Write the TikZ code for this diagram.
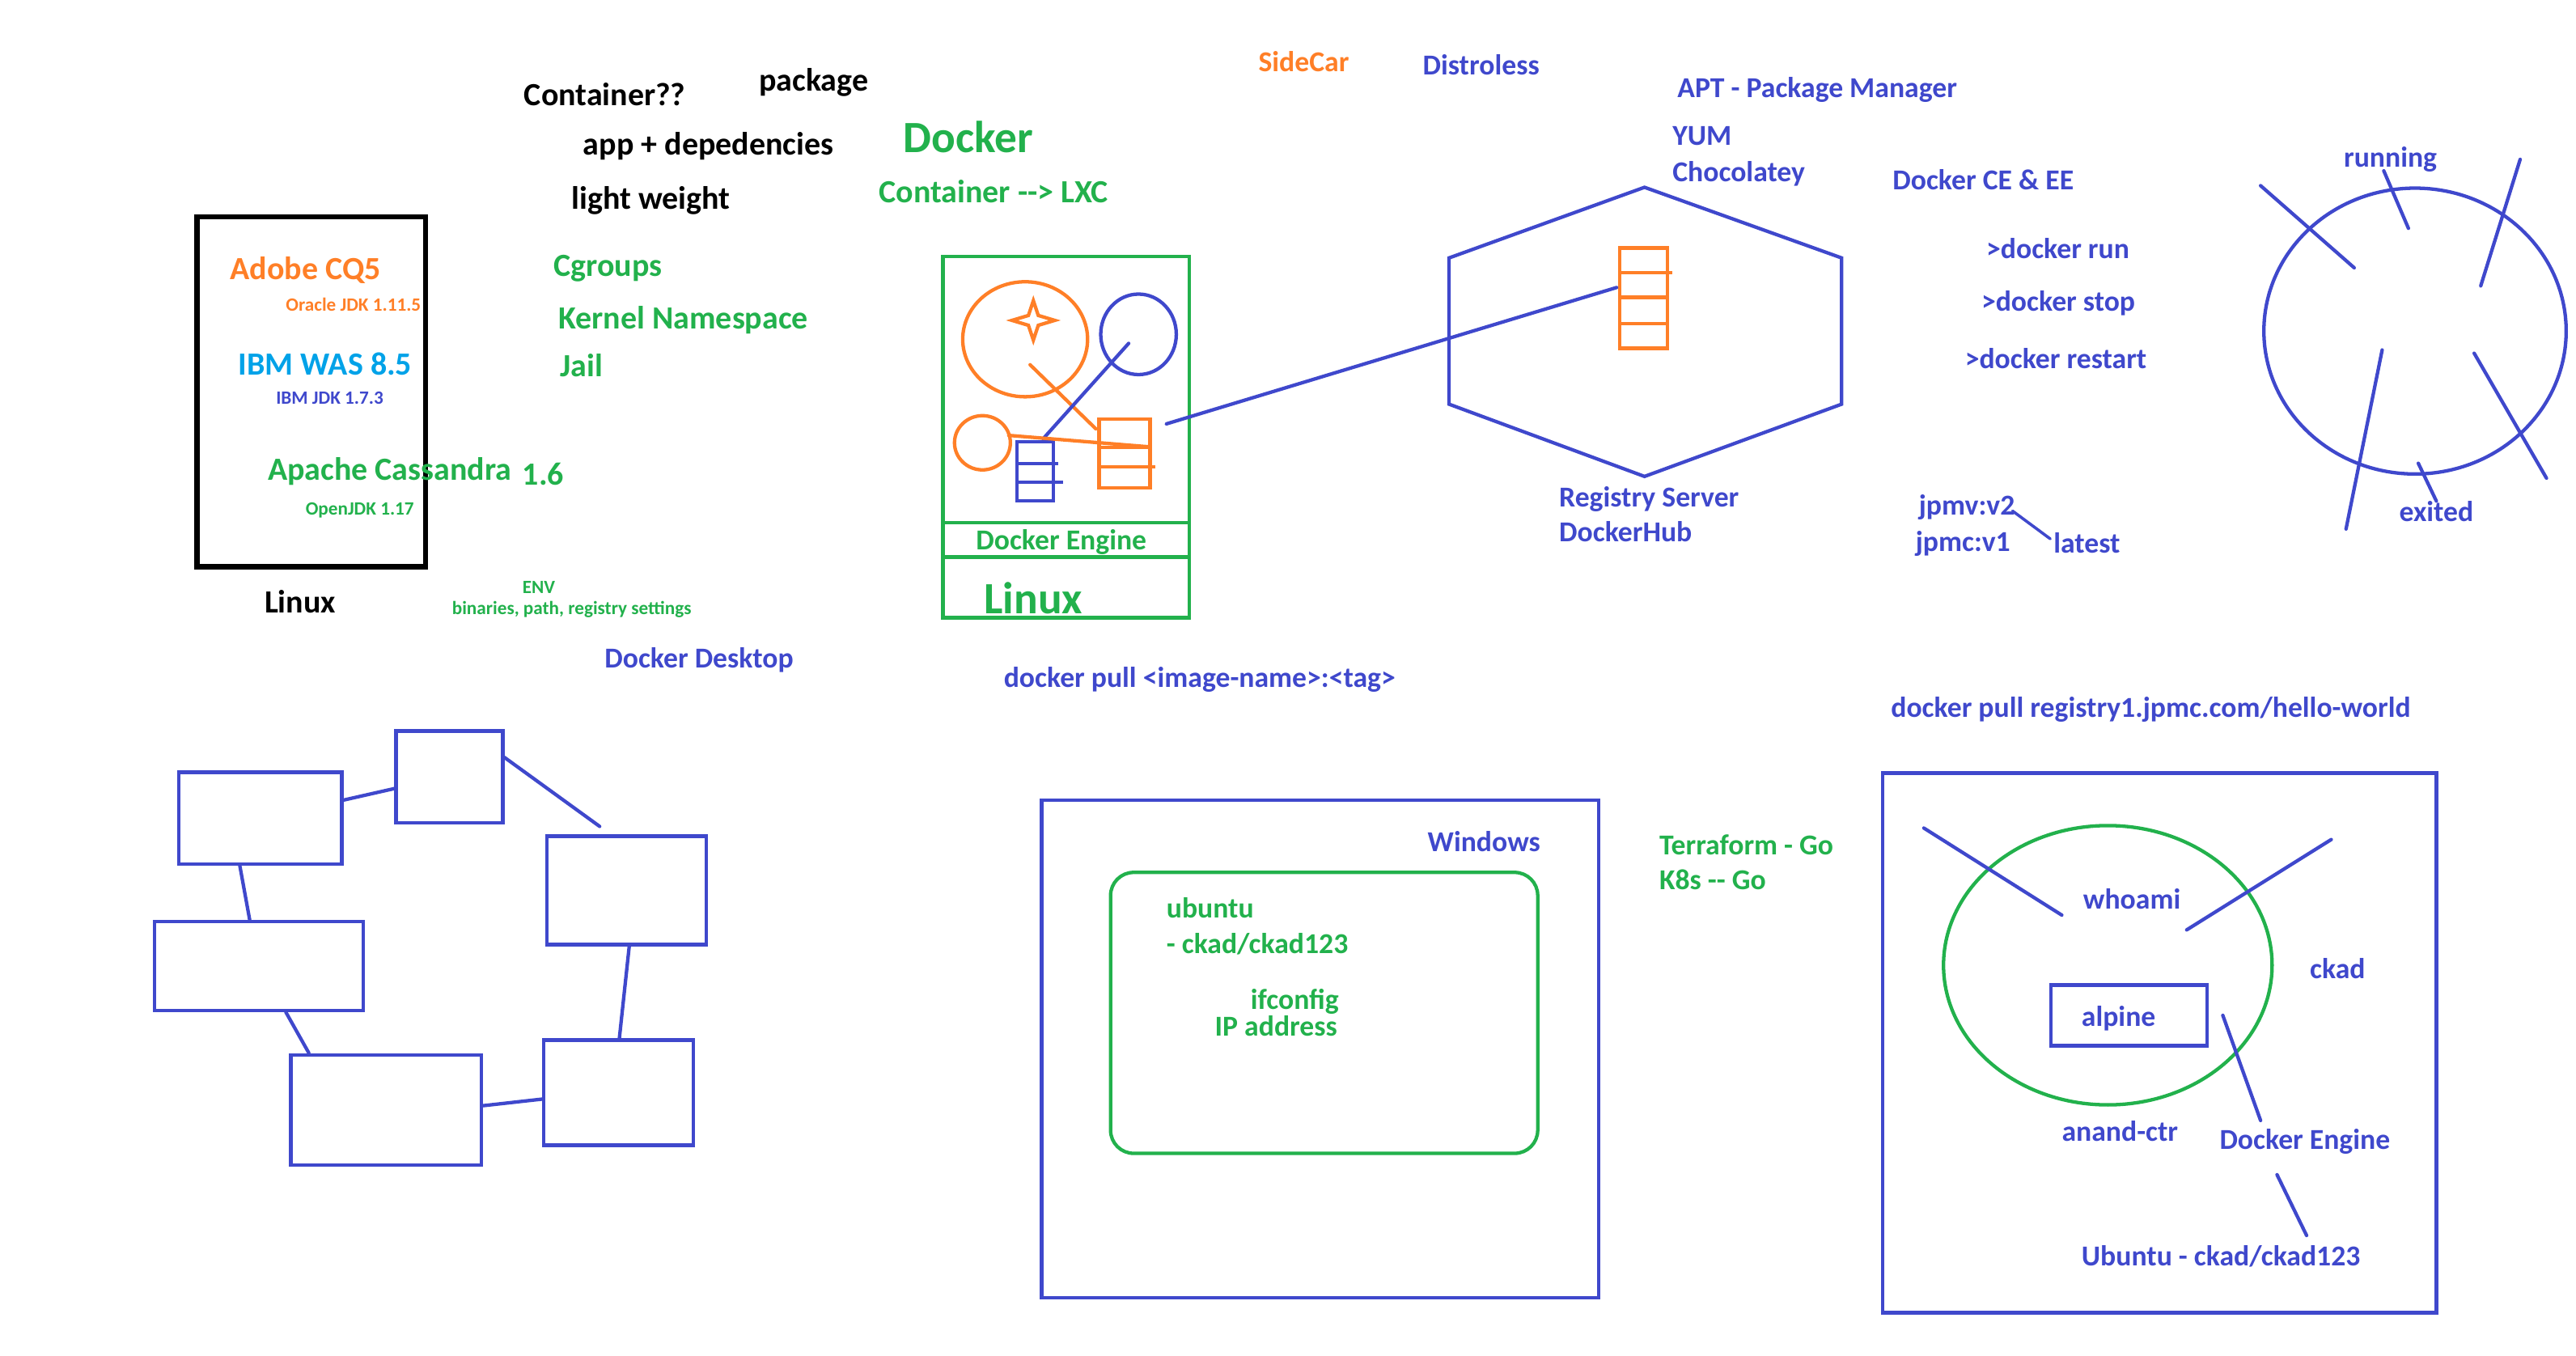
\documentclass[tikz,border=0pt]{standalone}
\usepackage{fontspec}
\setmainfont{Carlito}
\usetikzlibrary{positioning}

\definecolor{pblue}{RGB}{63,72,204}
\definecolor{pgreen}{RGB}{34,177,76}
\definecolor{porange}{RGB}{255,127,39}
\definecolor{pcyan}{RGB}{0,162,232}

\tikzset{
  lblM/.style={inner sep=0pt, anchor=west, text height=7.4pt, text depth=0pt,
    font=\bfseries\fontsize{10}{12}\selectfont},
  lblL/.style={lblM, text height=8.2pt, font=\bfseries\fontsize{11.2}{13}\selectfont},
  lblS/.style={lblM, text height=4.8pt, font=\bfseries\fontsize{6.5}{8}\selectfont},
  lblXL/.style={lblM, text height=11pt, font=\bfseries\fontsize{15.5}{18}\selectfont},
  blk/.style={draw=pblue, rectangle, inner sep=0pt},
}

\begin{document}
\begin{tikzpicture}[x=0.02cm, y=-0.02cm, line width=1.2pt]

  \newcommand\U{0.02cm}

  \useasboundingbox (0,0) rectangle (1568,825);

  %% apps on one linux box
  \draw[line width=1.8pt] (120,132) rectangle (259,345);
  \node[lblL, porange] (adobe) at (139,163) {Adobe CQ5};
  \node[lblS, porange] (oracle) at (173,185) {Oracle JDK 1.11.5};
  \node[lblL, pcyan] (ibmwas) at (144,221) {IBM WAS 8.5};
  \node[lblS, pblue] (ibmjdk) at (167,242) {IBM JDK 1.7.3};
  \node[lblL, pgreen] (cass) at (162,285) {Apache Cassandra};
  \node[lblL, pgreen] (cassver) at (317,288) {1.6};
  \node[lblS, pgreen] (openjdk) at (185,309) {OpenJDK 1.17};
  \node[lblL] (linuxA) at (160,366) {Linux};
  \node[lblS, pgreen, anchor=center] (env) at (328,357) {ENV};
  \node[lblS, pgreen, anchor=center] (envlist) at (348,370) {binaries, path, registry settings};
  \node[lblM, pblue] (desktop) at (367,400) {Docker Desktop};

  %% container notes
  \node[lblL] (what) at (318,57) {Container??};
  \node[lblL] (pkg) at (461,48) {package};
  \node[lblL] (appdep) at (354,87) {app + depedencies};
  \node[lblL] (light) at (347,120) {light weight};
  \node[lblL, pgreen] (cgroups) at (336,161) {Cgroups};
  \node[lblL, pgreen] (kns) at (339,193) {Kernel Namespace};
  \node[lblL, pgreen] (jail) at (340,222) {Jail};
  \node[lblXL, pgreen] (docker) at (549,83) {Docker};
  \node[lblL, pgreen] (lxc) at (534,116) {Container -{}-> LXC};

  %% docker host
  \draw[pgreen] (574,156) rectangle (724,376);
  \draw[pgreen] (574,318) -- (724,318);
  \draw[pgreen] (574,339) -- (724,339);
  \node[lblM, pgreen, anchor=center] (engA) at (646,328) {Docker Engine};
  \node[lblXL, pgreen] (linuxB) at (598,364) {Linux};

  \draw[porange] (624,206.5) ellipse [x radius=38, y radius=35];
  \draw[porange] (629,183) -- (632,192) -- (642,195) -- (632,198) -- (629,207)
    -- (626,198) -- (616,195) -- (626,192) -- cycle;
  \draw[pblue] (693,203.5) ellipse [x radius=23, y radius=24.5];
  \draw[porange] (598,269.5) ellipse [x radius=17, y radius=16.5];
  \draw[pblue] (619,269) rectangle (641,305);
  \draw[pblue] (619,282) -- (644,282);
  \draw[pblue] (619,293.5) -- (647,293.5);
  \draw[porange] (669,255) rectangle (700,297);
  \draw[porange] (669,272.5) -- (701,272.5);
  \draw[porange] (669,284) -- (703,284);
  \draw[porange, line cap=round] (627,222) -- (667,261); % app
  \draw[pblue, line cap=round] (687,209) -- (635,267);   % app
  \draw[porange, line cap=round] (614,265) -- (700,272); % app

  %% registry
  \draw[pblue] (1001,114) -- (1121,157) -- (1121,246) -- (1001,290)
    -- (882,246) -- (882,157) -- cycle;
  \draw[porange] (986,151) rectangle (1015,212);
  \draw[porange] (986,166) -- (1018,166);
  \draw[porange] (986,181) -- (1016,181);
  \draw[porange] (986,197) -- (1015,197);
  \coordinate (hostimg) at (710,258);
  \coordinate (hubimg) at (984,175);
  \draw[pblue, line cap=round] (hostimg) -- (hubimg); %% host -> hub
  \node[lblM, pblue] (regsrv) at (948,302) {Registry Server};
  \node[lblM, pblue] (dhub) at (948,323) {DockerHub};
  \node[lblM, pblue] (pull1) at (610,412) {docker pull <image-name>:<tag>};

  \node[lblM, porange] (sidecar) at (765,37) {SideCar};
  \node[lblM, pblue] (distroless) at (865,39) {Distroless};
  \node[lblM, pblue] (apt) at (1020,53) {APT - Package Manager};
  \node[lblM, pblue] (yum) at (1017,82) {YUM};
  \node[lblM, pblue] (choco) at (1017,104) {Chocolatey};
  \node[lblM, pblue] (cee) at (1151,109) {Docker CE \& EE};
  \node[lblM, pblue] (run) at (1208,151) {>docker run};
  \node[lblM, pblue] (stop) at (1205,183) {>docker stop};
  \node[lblM, pblue] (restart) at (1195,218) {>docker restart};
  \node[lblM, pblue] (jpmv) at (1167,307) {jpmv:v2};
  \node[lblM, pblue] (jpmc) at (1165,329) {jpmc:v1};
  \node[lblM, pblue] (latest) at (1249,330) {latest};
  \draw[pblue, line cap=round, line width=1pt] (1225,311) -- (1248,328);

  %% life cycle
  \draw[pblue] (1470,201.5) ellipse [x radius=92, y radius=87];
  \draw[pblue, line cap=round] (1376,113) -- (1433,163);
  \draw[pblue, line cap=round] (1534,97) -- (1510,174);
  \draw[pblue, line cap=round] (1451,104) -- (1466,139);
  \draw[pblue, line cap=round] (1450,213) -- (1428,322);
  \draw[pblue, line cap=round] (1506,215) -- (1550,291);
  \draw[pblue, line cap=round] (1472,282) -- (1483,305);
  \node[lblM, pblue, anchor=center] (running) at (1455,95) {running};
  \node[lblM, pblue, anchor=center] (exited) at (1483,311) {exited};

  %% cluster of boxes
  \node[blk, minimum width=99*\U, minimum height=56*\U] (b1) at (158.5,498) {};
  \node[blk, minimum width=65*\U, minimum height=56*\U] (b2) at (273.5,473) {};
  \node[blk, minimum width=97*\U, minimum height=66*\U] (b3) at (381.5,542) {};
  \node[blk, minimum width=127*\U, minimum height=54*\U] (b4) at (157.5,588) {};
  \node[blk, minimum width=116*\U, minimum height=67*\U] (b5) at (235,675.5) {};
  \node[blk, minimum width=91*\U, minimum height=64*\U] (b6) at (376.5,665) {};
  \coordinate (b2end) at (365,503);
  \draw[pblue, line cap=round] (b1.east |- 0,487) -- (b2.west |- 0,480);
  \draw[pblue, line cap=round] (b2.east |- 0,461) -- (b2end);
  \draw[pblue, line cap=round] (b1.south -| 146,0) -- (b4.north -| 152,0);
  \draw[pblue, line cap=round] (b4.south -| 174,0) -- (b5.north -| 188,0);
  \draw[pblue, line cap=round] (b3.south -| 383,0) -- (b6.north -| 377,0);
  \draw[pblue, line cap=round] (b5.east |- 0,673) -- (b6.west |- 0,669);

  %% windows host
  \draw[pblue] (634,487) rectangle (973,790);
  \draw[pgreen, rounded corners=8] (676,531) rectangle (936,702);
  \node[lblM, pblue] (windows) at (868,512) {Windows};
  \node[lblM, pgreen] (ubuntu) at (709,552) {ubuntu};
  \node[lblM, pgreen] (cred) at (709,574) {- ckad/ckad123};
  \node[lblM, pgreen, anchor=east] (ifconfig) at (816,608) {ifconfig};
  \node[lblM, pgreen, anchor=east] (ipaddr) at (815,624) {IP address};
  \node[lblM, pgreen] (tf) at (1009,514) {Terraform - Go};
  \node[lblM, pgreen] (k8s) at (1009,535) {K8s -{}- Go};

  %% ubuntu host
  \node[lblM, pblue] (pull2) at (1150,430) {docker pull registry1.jpmc.com/hello-world};
  \draw[pblue] (1146,470.5) rectangle (1483,799);
  \draw[pgreen] (1283,587.5) ellipse [x radius=100, y radius=85];
  \node[blk, minimum width=95*\U, minimum height=37*\U] (alpine) at (1296,618) {};
  \node[lblM, pblue] at (1266,618) {alpine};
  \node[lblM, pblue] (whoami) at (1267,547) {whoami};
  \node[lblM, pblue] (ckad) at (1405,589) {ckad};
  \node[lblM, pblue] (anand) at (1254,688) {anand-ctr};
  \node[lblM, pblue] (engB) at (1350,693) {Docker Engine};
  \node[lblM, pblue] (ubuntuB) at (1266,764) {Ubuntu - ckad/ckad123};
  \draw[pblue, line cap=round] (1171,504) -- (1255,557);
  \draw[pblue, line cap=round] (1419,511) -- (1331,566);
  \draw[pblue, line cap=round] (1353,618) -- (1376,682);
  \draw[pblue, line cap=round] (1386,715) -- (1404,752);

\end{tikzpicture}
\end{document}
